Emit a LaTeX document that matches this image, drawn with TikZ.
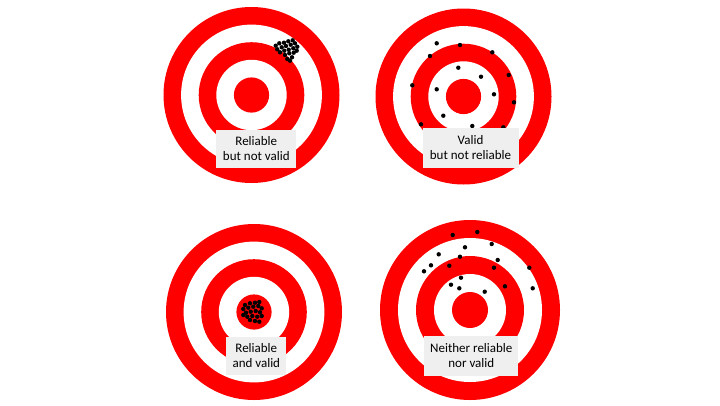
\documentclass[tikz,border=0pt]{standalone}
\usepackage{fontspec}
\setmainfont{Carlito}
\definecolor{tred}{HTML}{FF0000}
\definecolor{lblgray}{HTML}{EFEFEF}
\begin{document}
\begin{tikzpicture}[x=1pt,y=-1pt,
  lbl/.style={fill=lblgray, align=center, inner sep=0pt,
    font=\fontsize{13}{15}\selectfont},
  pics/target/.style={code={
    \fill[tred]  (0,0) circle[radius={#1*1pt}];
    \fill[white] (0,0) circle[radius={0.8*#1*1pt}];
    \fill[tred]  (0,0) circle[radius={0.6*#1*1pt}];
    \fill[white] (0,0) circle[radius={0.4*#1*1pt}];
    \fill[tred]  (0,0) circle[radius={0.2*#1*1pt}];
  }},
  shot/.style={fill=black}]
\useasboundingbox[fill=white] (0,0) rectangle (720,405);

% targets
\pic at (251.5,95) {target=88};
\pic at (463.5,96.5) {target=88};
\pic at (254,312) {target=88};
\pic at (470,310) {target=90};

% shots: reliable but not valid
\foreach \p in {(275.7,45.7),(279.3,43.3),(284,42.7),(288.3,41.3),(292.7,40.3),
  (277.3,49.3),(281.7,47.3),(286,46),(290.7,44.7),(295,43.3),(280,52.3),
  (284.3,50.7),(288.7,49.7),(293.3,48.3),(297.3,46.7),(285,55),(289.3,53.3),
  (293.7,52.7),(287.3,59),(292,57.3),(296.7,50.7),(290,60.7)}
  \fill[shot] \p circle[radius=2.2pt];

% shots: valid but not reliable
\foreach \p in {(436.7,43.3),(460,45),(430,56),(492.3,52.3),(458.3,67.7),
  (481,76.7),(508.7,75),(412.3,85.3),(436.7,89.3),(494,94.3),(514,102.3),
  (443.3,115.7),(421,124.3),(472.3,126),(503.3,127.3)}
  \fill[shot] \p circle[radius=2.2pt];

% shots: reliable and valid
\foreach \p in {(245,305),(250,303.3),(255,302.7),(259.3,302),(243.3,309),
  (248.3,307.7),(253.3,306.7),(258.3,306),(261.7,308.3),(246,312.7),
  (250.7,311.7),(255.7,311),(260,312.3),(247.3,316.7),(252.3,316),
  (257.3,316.7),(261.7,316),(250,320),(255,321),(259.3,321.7),(243.3,315)}
  \fill[shot] \p circle[radius=2.2pt];

% shots: neither reliable nor valid
\foreach \p in {(452.7,235),(477.3,232),(465,247.3),(491.7,244),(438.7,254.3),
  (460,256.7),(497.7,260),(431,265.3),(424,271.3),(449.3,265.7),(494,267.7),
  (529.3,267.7),(461,277.7),(451,284.7),(459.3,288.3),(505,286.3),
  (484.7,291.7),(532.7,288.3)}
  \fill[shot] \p circle[radius=2.2pt];

% labels
\node[lbl, minimum width=80pt, minimum height=38pt] (l1) at (256.3,149)
  {Reliable\\but not valid};
\node[lbl, minimum width=96pt, minimum height=40pt] (l2) at (470.5,148)
  {Valid\\but not reliable};
\node[lbl, minimum width=60pt, minimum height=38pt] (l3) at (256.3,356)
  {Reliable\\and valid};
\node[lbl, minimum width=94pt, minimum height=40pt] (l4) at (471.3,356)
  {Neither reliable\\nor valid};
\end{tikzpicture}
\end{document}
